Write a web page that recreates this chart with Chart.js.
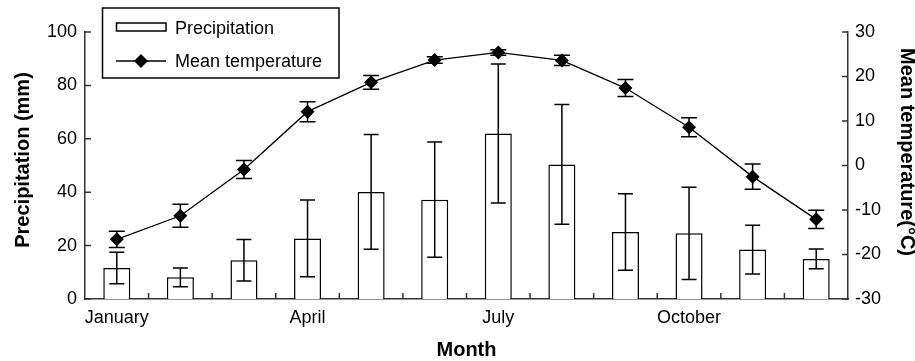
<!DOCTYPE html>
<html>
<head>
<meta charset="utf-8">
<script src="https://cdn.jsdelivr.net/npm/chart.js@4/dist/chart.umd.min.js"></script>
<style>
  html, body { margin: 0; padding: 0; background: #fff; }
  #wrap { position: relative; width: 915px; height: 361px; }
</style>
</head>
<body>
<div id="wrap"><canvas id="c" width="915" height="361"></canvas></div>
<script>
const months = ['January','February','March','April','May','June','July','August','September','October','November','December'];
const tickLabels = ['January','','','April','','','July','','','October','',''];
const precipitation = [11.6, 8.1, 14.5, 22.7, 40.1, 37.2, 62.0, 50.4, 25.1, 24.6, 18.5, 15.0];
const precipitationSD = [5.9, 3.5, 7.8, 14.4, 21.5, 21.6, 26.0, 22.4, 14.3, 17.3, 9.1, 3.7];
const temperature = [-16.6, -11.3, -0.9, 12.1, 18.7, 23.7, 25.4, 23.6, 17.4, 8.6, -2.5, -12.1];
const temperatureSD = [1.8, 2.6, 2.0, 2.25, 1.55, 0.75, 0.6, 1.15, 1.9, 2.15, 2.85, 2.05];
const leftTicks = [0, 20, 40, 60, 80, 100];
const rightTicks = [-30, -20, -10, 0, 10, 20, 30];
const legendLabels = ['Precipitation', 'Mean temperature'];
const axisTitles = { x: 'Month', left: 'Precipitation (mm)', right: 'Mean temperature(°C)' };

const FONT = '"Liberation Sans", Arial, sans-serif';
const AXIS = '#333';

const errorBars = {
  id: 'errorBars',
  afterDatasetsDraw(chart) {
    const ctx = chart.ctx;
    ctx.save();
    ctx.strokeStyle = '#000';
    ctx.lineWidth = 1.5;
    const draw = (dsIndex, sds, scale, cap) => {
      const meta = chart.getDatasetMeta(dsIndex);
      const vals = chart.data.datasets[dsIndex].data;
      meta.data.forEach((el, i) => {
        const x = el.x;
        const yHi = scale.getPixelForValue(vals[i] + sds[i]);
        const yLo = scale.getPixelForValue(vals[i] - sds[i]);
        ctx.beginPath();
        ctx.moveTo(x, yHi); ctx.lineTo(x, yLo);
        ctx.moveTo(x - cap, yHi); ctx.lineTo(x + cap, yHi);
        ctx.moveTo(x - cap, yLo); ctx.lineTo(x + cap, yLo);
        ctx.stroke();
      });
    };
    draw(1, precipitationSD, chart.scales.y, 7.5);
    ctx.restore();
  }
};

const tempErrorBars = {
  id: 'tempErrorBars',
  afterDatasetDraw(chart, args) {
    if (args.index !== 0) return;
    const ctx = chart.ctx;
    ctx.save();
    ctx.strokeStyle = '#000';
    ctx.lineWidth = 1.5;
    const meta = chart.getDatasetMeta(0);
    const scale = chart.scales.y1;
    meta.data.forEach((el, i) => {
      const x = el.x, cap = 8;
      const yHi = scale.getPixelForValue(temperature[i] + temperatureSD[i]);
      const yLo = scale.getPixelForValue(temperature[i] - temperatureSD[i]);
      ctx.beginPath();
      ctx.moveTo(x, yHi); ctx.lineTo(x, yLo);
      ctx.moveTo(x - cap, yHi); ctx.lineTo(x + cap, yHi);
      ctx.moveTo(x - cap, yLo); ctx.lineTo(x + cap, yLo);
      ctx.stroke();
    });
    ctx.restore();
  }
};

const axisDecor = {
  id: 'axisDecor',
  afterDraw(chart) {
    const ctx = chart.ctx;
    const a = chart.chartArea;
    const xs = chart.scales.x, yl = chart.scales.y, yr = chart.scales.y1;
    ctx.save();
    ctx.strokeStyle = AXIS;
    ctx.lineWidth = 1.5;
    ctx.beginPath();
    // inward tick marks
    leftTicks.forEach(v => { const y = yl.getPixelForValue(v); ctx.moveTo(a.left, y); ctx.lineTo(a.left + 6, y); });
    rightTicks.forEach(v => { const y = yr.getPixelForValue(v); ctx.moveTo(a.right - 6, y); ctx.lineTo(a.right, y); });
    for (let i = 1; i < months.length; i++) {
      const x = (xs.getPixelForValue(i - 1) + xs.getPixelForValue(i)) / 2;
      ctx.moveTo(x, a.bottom); ctx.lineTo(x, a.bottom - 6);
    }
    ctx.stroke();

    // axis titles
    ctx.fillStyle = '#000';
    ctx.font = 'bold 20px ' + FONT;
    ctx.textAlign = 'center';
    ctx.textBaseline = 'alphabetic';
    ctx.fillText(axisTitles.x, (a.left + a.right) / 2, 356);
    ctx.save();
    ctx.translate(28.5, 160);
    ctx.rotate(-Math.PI / 2);
    ctx.fillText(axisTitles.left, 0, 0);
    ctx.restore();
    ctx.save();
    ctx.translate(901, 152);
    ctx.rotate(Math.PI / 2);
    ctx.fillText(axisTitles.right, 0, 0);
    ctx.restore();

    // legend
    ctx.lineWidth = 1.5;
    ctx.strokeStyle = '#000';
    ctx.strokeRect(102.5, 8, 236.5, 70);
    ctx.strokeRect(116.5, 23, 49.5, 8);
    ctx.beginPath();
    ctx.moveTo(116, 61); ctx.lineTo(166, 61);
    ctx.stroke();
    ctx.beginPath();
    ctx.moveTo(141, 54); ctx.lineTo(148, 61); ctx.lineTo(141, 68); ctx.lineTo(134, 61); ctx.closePath();
    ctx.fill();
    ctx.font = '18px ' + FONT;
    ctx.textAlign = 'left';
    ctx.fillText(legendLabels[0], 175, 34);
    ctx.fillText(legendLabels[1], 175, 67);
    ctx.restore();
  }
};

new Chart(document.getElementById('c'), {
  type: 'bar',
  data: {
    labels: months,
    datasets: [
      {
        type: 'line',
        label: legendLabels[1],
        data: temperature,
        yAxisID: 'y1',
        borderColor: '#000',
        borderWidth: 1.3,
        backgroundColor: '#000',
        pointStyle: 'rectRot',
        pointRadius: 7,
        pointBackgroundColor: '#000',
        pointBorderColor: '#000',
        pointBorderWidth: 0,
        tension: 0,
        order: 0
      },
      {
        type: 'bar',
        label: legendLabels[0],
        data: precipitation,
        yAxisID: 'y',
        backgroundColor: '#fff',
        borderColor: '#000',
        borderWidth: 1.5,
        barPercentage: 0.425,
        categoryPercentage: 1,
        order: 1
      }
    ]
  },
  options: {
    responsive: false,
    animation: false,
    devicePixelRatio: 1,
    layout: { padding: { top: 32, left: 0, right: 0, bottom: 0 } },
    plugins: { legend: { display: false }, tooltip: { enabled: false } },
    scales: {
      x: {
        offset: true,
        grid: { display: false, drawTicks: false },
        border: { display: true, color: AXIS, width: 1.5 },
        ticks: {
          autoSkip: false, maxRotation: 0, padding: 8,
          color: '#000', font: { family: FONT, size: 18 },
          callback: (v, i) => tickLabels[i]
        },
        afterFit: s => { s.height = 62; }
      },
      y: {
        position: 'left',
        min: 0, max: 100,
        grid: { display: false, drawTicks: false },
        border: { display: true, color: AXIS, width: 1.5 },
        ticks: { stepSize: 20, padding: 8, color: '#000', font: { family: FONT, size: 18 } },
        afterBuildTicks: s => { s.ticks = leftTicks.map(v => ({ value: v })); },
        afterFit: s => { s.width = 85; }
      },
      y1: {
        position: 'right',
        min: -30, max: 30,
        grid: { display: false, drawTicks: false },
        border: { display: true, color: AXIS, width: 1.5 },
        ticks: { stepSize: 10, padding: 7, color: '#000', font: { family: FONT, size: 18 } },
        afterBuildTicks: s => { s.ticks = rightTicks.map(v => ({ value: v })); },
        afterFit: s => { s.width = 67; }
      }
    }
  },
  plugins: [tempErrorBars, errorBars, axisDecor]
});
</script>
</body>
</html>
